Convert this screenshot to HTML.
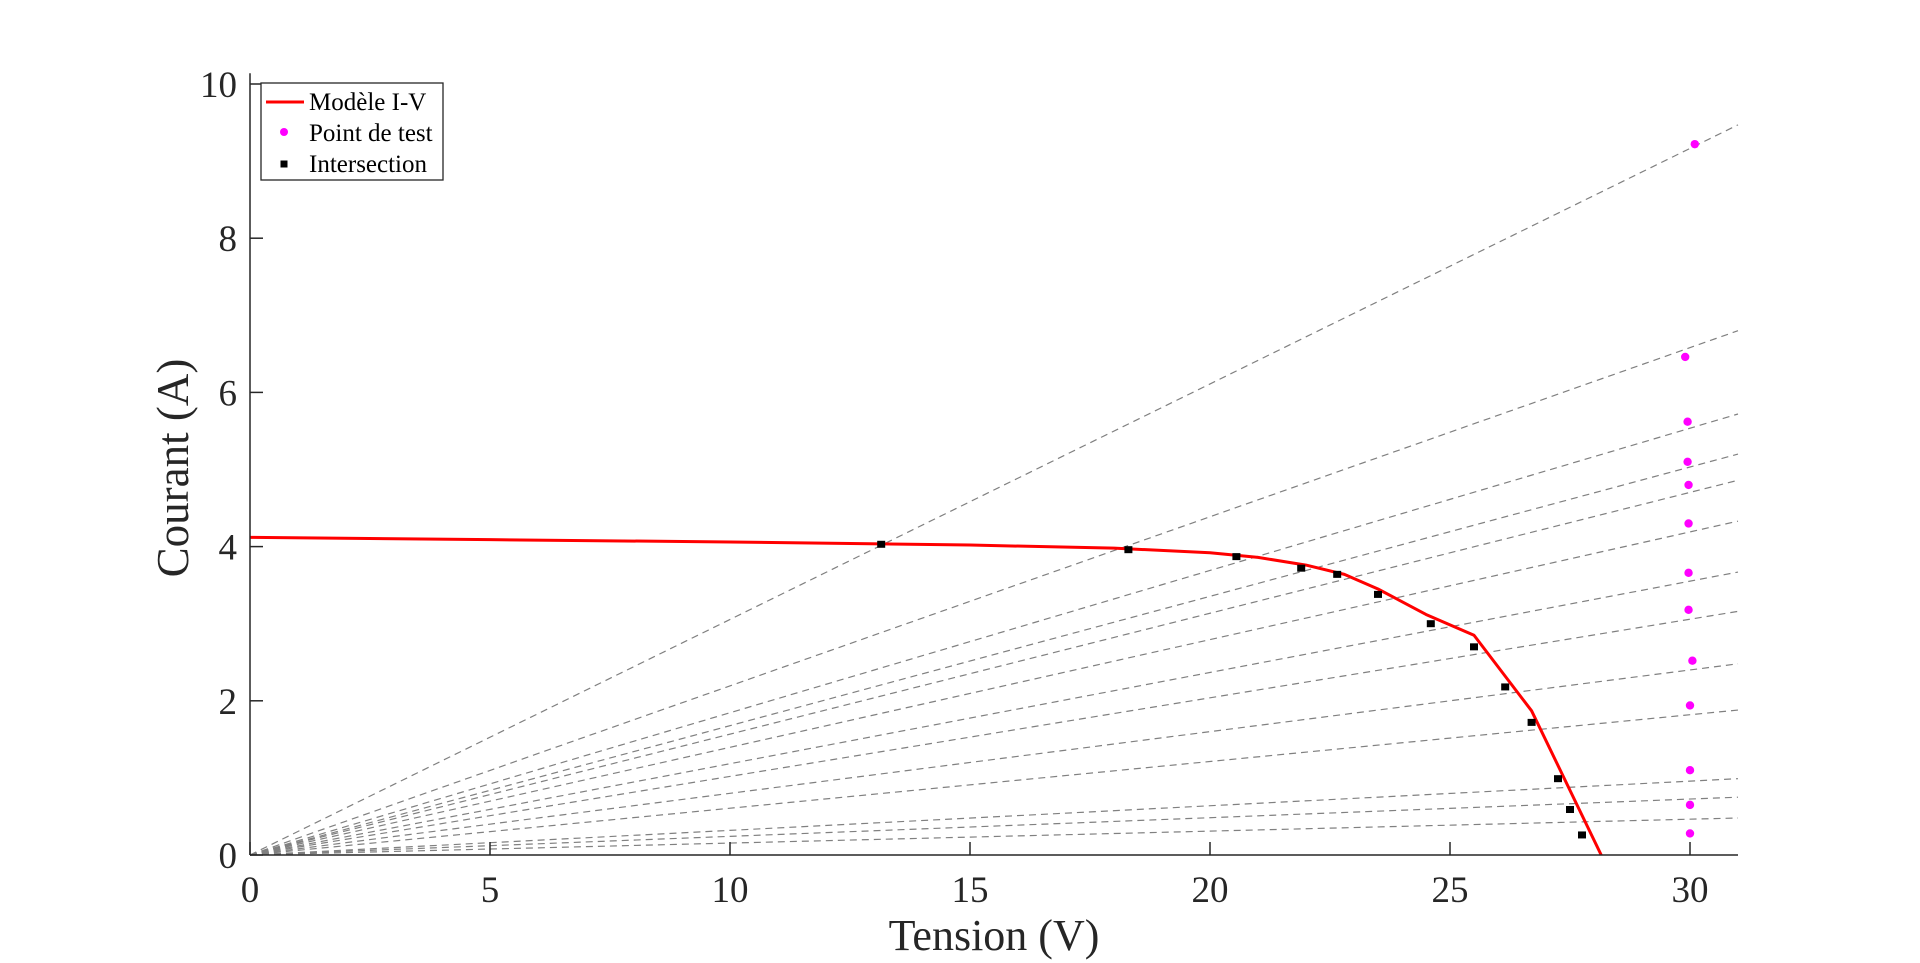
<!DOCTYPE html>
<html><head><meta charset="utf-8"><style>
html,body{margin:0;padding:0;background:#fff;}
svg{display:block;font-family:"Liberation Serif",serif;}
</style></head><body>
<svg id="chart" width="1920" height="963" viewBox="0 0 1920 963" xmlns="http://www.w3.org/2000/svg">
<g id="lines"></g>
<g id="curve"></g>
<g id="marks"></g>
<g id="axes"></g>
<text x="994" y="950" font-size="44" text-anchor="middle" fill="#262626">Tension (V)</text>
<text transform="translate(188,468) rotate(-90)" font-size="45" text-anchor="middle" fill="#262626">Courant (A)</text>
<g>
<rect x="261" y="83" width="182" height="97" fill="#fff" stroke="#262626" stroke-width="1.3"/>
<g>
<line x1="266" y1="102" x2="304" y2="102" stroke="#ff0000" stroke-width="3"/>
<text x="309" y="110" font-size="25" fill="#000">Modèle I-V</text></g>
<g>
<circle cx="284" cy="132" r="4" fill="#ff00ff"/>
<text x="309" y="141" font-size="25" fill="#000">Point de test</text></g>
<g>
<rect x="280.5" y="160.5" width="7" height="7" fill="#000"/>
<text x="309" y="172" font-size="25" fill="#000">Intersection</text></g>
</g>
</svg>
<script>
// ---- data ----
const curveV = [0, 5, 10, 15, 18, 20, 21, 22, 22.8, 23.5, 24.5, 25.5, 26.7, 28.15];
const curveI = [4.12, 4.09, 4.06, 4.02, 3.98, 3.92, 3.86, 3.76, 3.64, 3.45, 3.12, 2.85, 1.87, 0];
const interV = [13.15, 18.3, 20.55, 21.9, 22.65, 23.5, 24.6, 25.5, 26.15, 26.7, 27.25, 27.5, 27.75];
const interI = [4.03, 3.96, 3.87, 3.72, 3.64, 3.38, 3.0, 2.7, 2.18, 1.72, 0.99, 0.59, 0.26];
const testV = [30.1, 29.9, 29.95, 29.95, 29.97, 29.97, 29.97, 29.97, 30.05, 30.0, 30.0, 30.0, 30.0];
const testI = [9.22, 6.46, 5.62, 5.1, 4.8, 4.3, 3.66, 3.18, 2.52, 1.94, 1.1, 0.65, 0.28];
const lineEndI = [9.47, 6.8, 5.72, 5.2, 4.86, 4.33, 3.67, 3.16, 2.48, 1.88, 0.99, 0.75, 0.48];
const xTicks = [0, 5, 10, 15, 20, 25, 30];
const yTicks = [0, 2, 4, 6, 8, 10];
const xMax = 31, yMax = 10.14;

// ---- scales ----
const X0 = 250, XPU = 48, Y0 = 855, YPU = 77.1;
const sx = v => X0 + v * XPU;
const sy = i => Y0 - i * YPU;
const NS = "http://www.w3.org/2000/svg";
function mk(tag, attrs, parent) {
  const e = document.createElementNS(NS, tag);
  for (const k in attrs) e.setAttribute(k, attrs[k]);
  parent.appendChild(e);
  return e;
}
const gL = document.getElementById('lines'), gC = document.getElementById('curve'),
      gM = document.getElementById('marks'), gA = document.getElementById('axes');

lineEndI.forEach((iEnd, k) => {
  const l = mk('line', {x1: sx(0), y1: sy(0), x2: sx(xMax), y2: sy(iEnd), stroke: '#808080', 'stroke-width': 1.2, 'stroke-dasharray': '7,5'}, gL);
  
  
});

const pts = curveV.map((v, k) => sx(v) + ',' + sy(curveI[k])).join(' ');
const pl = mk('polyline', {points: pts, fill: 'none', stroke: '#ff0000', 'stroke-width': 3, 'stroke-linejoin': 'round'}, gC);



testV.forEach((v, k) => {
  const c = mk('circle', {cx: sx(v), cy: sy(testI[k]), r: 4.2, fill: '#ff00ff'}, gM);
  
  
});
interV.forEach((v, k) => {
  const r = mk('rect', {x: sx(v) - 4, y: sy(interI[k]) - 3.5, width: 8, height: 7, fill: '#000'}, gM);
  
  
});

// axes
const xa = mk('line', {x1: sx(0), y1: Y0, x2: sx(xMax), y2: Y0, stroke: '#262626', 'stroke-width': 1.5}, gA);


const ya = mk('line', {x1: X0, y1: sy(yMax), x2: X0, y2: Y0, stroke: '#262626', 'stroke-width': 1.5}, gA);


xTicks.forEach(t => {
  const tk = mk('line', {x1: sx(t), y1: Y0, x2: sx(t), y2: Y0 - 13, stroke: '#262626', 'stroke-width': 1.5}, gA);
  
  
  const tx = mk('text', {x: sx(t), y: Y0 + 47, 'font-size': 37, 'text-anchor': 'middle', fill: '#262626'}, gA);
  tx.textContent = t;
  
  
});
yTicks.forEach(t => {
  const tk = mk('line', {x1: X0, y1: sy(t), x2: X0 + 13, y2: sy(t), stroke: '#262626', 'stroke-width': 1.5}, gA);
  
  
  const tx = mk('text', {x: X0 - 13, y: sy(t) + 13, 'font-size': 37, 'text-anchor': 'end', fill: '#262626'}, gA);
  tx.textContent = t;
  
  
});
</script>
</body></html>
